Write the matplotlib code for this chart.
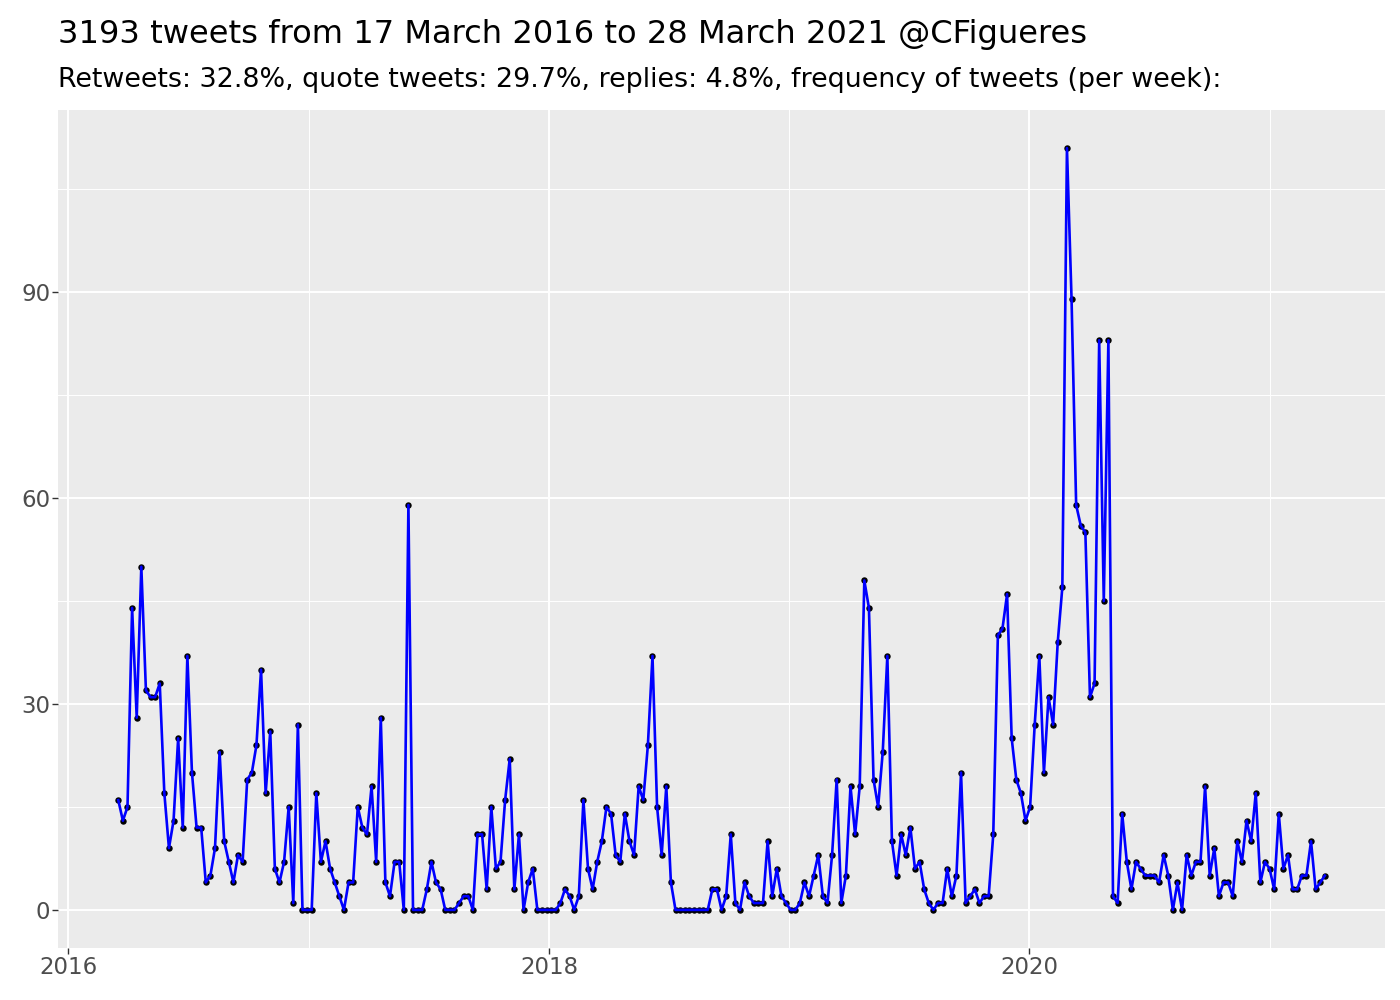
import pandas as pd
import matplotlib
matplotlib.use("Agg")
import matplotlib.pyplot as plt
import matplotlib.dates as mdates
from matplotlib.ticker import MultipleLocator

# ============================================
# DATA: tweets per week
# ============================================

first_week = "2016-03-17"

counts_2016 = [16, 13, 15, 44, 28, 50, 32, 31, 31, 33, 17, 9, 13, 25, 12, 37,
               20, 12, 12, 4, 5, 9, 23, 10, 7, 4, 8, 7, 19, 20, 24, 35, 17, 26,
               6, 4, 7, 15, 1, 27, 0, 0, 0]
counts_2017 = [17, 7, 10, 6, 4, 2, 0, 4, 4, 15, 12, 11, 18, 7, 28, 4, 2, 7, 7,
               0, 59, 0, 0, 0, 3, 7, 4, 3, 0, 0, 0, 1, 2, 2, 0, 11, 11, 3, 15,
               6, 7, 16, 22, 3, 11, 0, 4, 6, 0, 0, 0, 0, 0]
counts_2018 = [1, 3, 2, 0, 2, 16, 6, 3, 7, 10, 15, 14, 8, 7, 14, 10, 8, 18, 16,
               24, 37, 15, 8, 18, 4, 0, 0, 0, 0, 0, 0, 0, 0, 3, 3, 0, 2, 11, 1,
               0, 4, 2, 1, 1, 1, 10, 2, 6, 2]
counts_2019 = [1, 0, 0, 1, 4, 2, 5, 8, 2, 1, 8, 19, 1, 5, 18, 11, 18, 48, 44,
               19, 15, 23, 37, 10, 5, 11, 8, 12, 6, 7, 3, 1, 0, 1, 1, 6, 2, 5,
               20, 1, 2, 3, 1, 2, 2, 11, 40, 41, 46, 25, 19, 17, 13]
counts_2020 = [15, 27, 37, 20, 31, 27, 39, 47, 111, 89, 59, 56, 55, 31, 33, 83,
               45, 83, 2, 1, 14, 7, 3, 7, 6, 5, 5, 5, 4, 8, 5, 0, 4, 0, 8, 5,
               7, 7, 18, 5, 9, 2, 4, 4, 2, 10, 7, 13, 10, 17, 4, 7]
counts_2021 = [6, 3, 14, 6, 8, 3, 3, 5, 5, 10, 3, 4, 5]

weekly_counts = (counts_2016 + counts_2017 + counts_2018 +
                 counts_2019 + counts_2020 + counts_2021)
weeks = pd.date_range(first_week, periods=len(weekly_counts), freq="7D")

title_text = "3193 tweets from 17 March 2016 to 28 March 2021 @CFigueres"
subtitle_text = ("Retweets: 32.8%, quote tweets: 29.7%, replies: 4.8%, "
                 "frequency of tweets (per week):")

# ============================================
# PLOT (ggplot grey look)
# ============================================

plt.rcParams["font.family"] = ["DejaVu Sans"]

fig = plt.figure(figsize=(14, 10), dpi=100)
ax = fig.add_axes([0.0414, 0.052, 0.948, 0.838])
ax.set_facecolor("#EBEBEB")

ax.scatter(weeks, weekly_counts, s=13, color="black", zorder=3)
ax.plot(weeks, weekly_counts, color="#0000FF", linewidth=1.9, zorder=4)

# limits with ggplot style 5% expansion
span = weeks[-1] - weeks[0]
ax.set_xlim(weeks[0] - span * 0.05, weeks[-1] + span * 0.05)
ymax = max(weekly_counts)
ax.set_ylim(-ymax * 0.05, ymax * 1.05)

ax.yaxis.set_major_locator(MultipleLocator(30))
ax.yaxis.set_minor_locator(MultipleLocator(15))
ax.xaxis.set_major_locator(mdates.YearLocator(2))
ax.xaxis.set_minor_locator(mdates.YearLocator(1))
ax.xaxis.set_major_formatter(mdates.DateFormatter("%Y"))

ax.grid(which="major", color="white", linewidth=1.4)
ax.grid(which="minor", color="white", linewidth=0.7)
ax.set_axisbelow(True)

for side in ax.spines.values():
    side.set_visible(False)

ax.tick_params(which="major", length=4, width=1, color="#333333",
               labelsize=16.5, labelcolor="#4D4D4D", pad=1.5)
ax.tick_params(which="minor", length=0)

fig.text(0.0414, 0.957, title_text, fontsize=23.1, color="black",
         ha="left", va="baseline")
fig.text(0.0414, 0.913, subtitle_text, fontsize=19.4, color="black",
         ha="left", va="baseline")

fig.savefig("out.png", dpi=100)
